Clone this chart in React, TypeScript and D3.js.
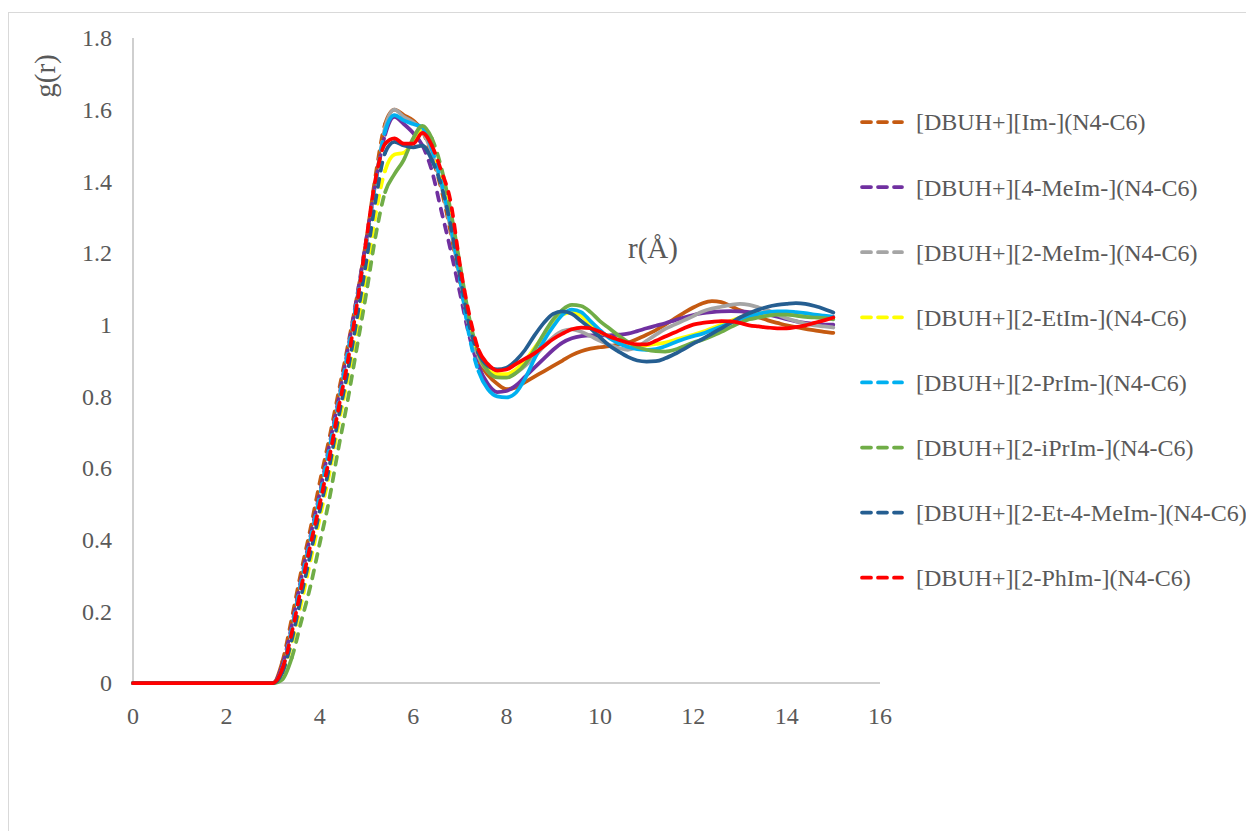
import React from "react";
import * as d3 from "d3";

// r grid (Å)
const R = [
  0, 0.2, 0.4, 0.6, 0.8, 1.0, 1.2, 1.4, 1.6, 1.8, 2.0, 2.2, 2.4, 2.6, 2.8, 3.0,
  3.2, 3.4, 3.6, 3.8, 4.0, 4.2, 4.4, 4.6, 4.8, 5.0,
  5.2, 5.4, 5.6, 5.8, 6.0, 6.2, 6.4, 6.6, 6.8, 7.0,
  7.2, 7.4, 7.6, 7.8, 8.0, 8.2, 8.4, 8.6, 8.8, 9.0,
  9.2, 9.4, 9.6, 9.8, 10.0, 10.2, 10.4, 10.6, 10.8, 11.0,
  11.2, 11.4, 11.6, 11.8, 12.0, 12.2, 12.4, 12.6, 12.8, 13.0,
  13.2, 13.4, 13.6, 13.8, 14.0, 14.2, 14.4, 14.6, 14.8, 15.0,
];

const Im = [
  0, 0, 0, 0, 0, 0, 0, 0, 0, 0, 0, 0, 0, 0, 0, 0,
  0.06, 0.18, 0.31, 0.43, 0.56, 0.68, 0.81, 0.94, 1.08, 1.24,
  1.42, 1.56, 1.6, 1.585, 1.57, 1.54, 1.47, 1.38, 1.26, 1.12,
  0.98, 0.9, 0.86, 0.835, 0.82, 0.825, 0.84, 0.855, 0.87, 0.885,
  0.9, 0.915, 0.926, 0.933, 0.937, 0.94, 0.945, 0.95, 0.96, 0.972,
  0.985, 1.0, 1.017, 1.033, 1.048, 1.06, 1.066, 1.063, 1.052, 1.04,
  1.03, 1.021, 1.012, 1.005, 0.998, 0.993, 0.988, 0.984, 0.98, 0.977,
];
const MeIm4 = [
  0, 0, 0, 0, 0, 0, 0, 0, 0, 0, 0, 0, 0, 0, 0, 0,
  0.05, 0.16, 0.29, 0.41, 0.53, 0.66, 0.79, 0.93, 1.08, 1.24,
  1.4, 1.53, 1.58, 1.56, 1.535, 1.5, 1.43, 1.32, 1.21, 1.09,
  0.97, 0.885, 0.835, 0.812, 0.815, 0.83, 0.855, 0.88, 0.905, 0.93,
  0.95, 0.962, 0.968, 0.97, 0.97, 0.97, 0.972, 0.975, 0.982, 0.99,
  0.997, 1.004, 1.012, 1.02, 1.027, 1.032, 1.035, 1.037, 1.038, 1.037,
  1.035, 1.032, 1.028, 1.022, 1.015, 1.009, 1.005, 1.002, 1.0, 1.0,
];
const MeIm2 = [
  0, 0, 0, 0, 0, 0, 0, 0, 0, 0, 0, 0, 0, 0, 0, 0,
  0.04, 0.15, 0.28, 0.4, 0.52, 0.65, 0.78, 0.92, 1.07, 1.23,
  1.4, 1.55, 1.6, 1.58, 1.565, 1.54, 1.48, 1.39, 1.27, 1.13,
  0.99, 0.91, 0.87, 0.855, 0.855, 0.865, 0.885, 0.91, 0.94, 0.965,
  0.982, 0.987, 0.98, 0.968, 0.955, 0.944, 0.935, 0.93, 0.938, 0.955,
  0.972, 0.988, 1.0, 1.012, 1.024, 1.037, 1.045, 1.05, 1.055, 1.058,
  1.055, 1.048, 1.04, 1.028, 1.018, 1.01, 1.003, 0.998, 0.995, 0.992,
];
const EtIm2 = [
  0, 0, 0, 0, 0, 0, 0, 0, 0, 0, 0, 0, 0, 0, 0, 0,
  0.03, 0.11, 0.22, 0.34, 0.46, 0.58, 0.72, 0.85, 0.99, 1.14,
  1.31, 1.43, 1.475, 1.48, 1.51, 1.55, 1.5, 1.41, 1.3, 1.16,
  1.01, 0.92, 0.875, 0.862, 0.862, 0.875, 0.9, 0.935, 0.97, 1.005,
  1.028, 1.034, 1.025, 1.0, 0.98, 0.967, 0.955, 0.945, 0.94, 0.942,
  0.946, 0.95, 0.957, 0.965, 0.972, 0.98, 0.99, 1.0, 1.01, 1.02,
  1.026, 1.03, 1.033, 1.034, 1.034, 1.032, 1.03, 1.027, 1.024, 1.02,
];
const PrIm2 = [
  0, 0, 0, 0, 0, 0, 0, 0, 0, 0, 0, 0, 0, 0, 0, 0,
  0.04, 0.15, 0.28, 0.4, 0.52, 0.65, 0.78, 0.92, 1.07, 1.23,
  1.4, 1.54, 1.585, 1.57, 1.56, 1.55, 1.49, 1.4, 1.28, 1.13,
  0.97, 0.87, 0.82, 0.8, 0.797, 0.81, 0.85, 0.905, 0.955, 0.995,
  1.028, 1.042, 1.035, 1.01, 0.985, 0.963, 0.948, 0.938, 0.932, 0.93,
  0.932, 0.94, 0.95, 0.96, 0.968, 0.975, 0.985, 0.995, 1.005, 1.015,
  1.023, 1.03, 1.035, 1.037, 1.037, 1.035, 1.032, 1.028, 1.025, 1.022,
];
const iPrIm2 = [
  0, 0, 0, 0, 0, 0, 0, 0, 0, 0, 0, 0, 0, 0, 0, 0,
  0.01, 0.07, 0.17, 0.27, 0.39, 0.51, 0.655, 0.79, 0.94, 1.09,
  1.25, 1.37, 1.42, 1.46, 1.52, 1.555, 1.52, 1.44, 1.32, 1.17,
  1.02, 0.92, 0.87, 0.853, 0.852, 0.865, 0.89, 0.93, 0.975, 1.015,
  1.042, 1.055, 1.052, 1.035, 1.01, 0.99, 0.97, 0.952, 0.938, 0.93,
  0.926, 0.925, 0.93, 0.94, 0.95, 0.958, 0.968, 0.98, 0.993, 1.005,
  1.015, 1.02, 1.025, 1.028, 1.028, 1.025, 1.022, 1.02, 1.018, 1.015,
];
const Et4MeIm2 = [
  0, 0, 0, 0, 0, 0, 0, 0, 0, 0, 0, 0, 0, 0, 0, 0,
  0.03, 0.12, 0.24, 0.36, 0.48, 0.6, 0.74, 0.87, 1.02, 1.18,
  1.35, 1.48, 1.51, 1.5, 1.495, 1.5, 1.46, 1.39, 1.28, 1.14,
  1.0, 0.92, 0.885, 0.875, 0.88, 0.9, 0.93, 0.97, 1.005, 1.03,
  1.037, 1.03, 1.01, 0.99, 0.965, 0.942, 0.925, 0.91, 0.9, 0.897,
  0.898, 0.906, 0.918, 0.932, 0.947, 0.96, 0.975, 0.99, 1.005, 1.02,
  1.032, 1.042, 1.05, 1.055, 1.058, 1.06, 1.058, 1.052, 1.044, 1.034,
];
const PhIm2 = [
  0, 0, 0, 0, 0, 0, 0, 0, 0, 0, 0, 0, 0, 0, 0, 0,
  0.04, 0.14, 0.265, 0.385, 0.5, 0.625, 0.765, 0.897, 1.06, 1.24,
  1.41, 1.505, 1.52, 1.505, 1.505, 1.535, 1.5, 1.43, 1.345, 1.17,
  1.03, 0.93, 0.89, 0.872, 0.875, 0.89, 0.905, 0.92, 0.94, 0.96,
  0.975, 0.987, 0.992, 0.99, 0.98, 0.967, 0.958, 0.95, 0.945, 0.945,
  0.955, 0.967, 0.978, 0.99, 1.0, 1.005, 1.008, 1.01, 1.009, 1.005,
  0.998, 0.995, 0.992, 0.99, 0.99, 0.993, 0.998, 1.005, 1.012, 1.02,
];

const SERIES_NAMES = [
  "[DBUH+][Im-](N4-C6)",
  "[DBUH+][4-MeIm-](N4-C6)",
  "[DBUH+][2-MeIm-](N4-C6)",
  "[DBUH+][2-EtIm-](N4-C6)",
  "[DBUH+][2-PrIm-](N4-C6)",
  "[DBUH+][2-iPrIm-](N4-C6)",
  "[DBUH+][2-Et-4-MeIm-](N4-C6)",
  "[DBUH+][2-PhIm-](N4-C6)",
];
const SERIES_VALUES = [Im, MeIm4, MeIm2, EtIm2, PrIm2, iPrIm2, Et4MeIm2, PhIm2];
const COLORS = ["#C55A11", "#7030A0", "#A5A5A5", "#FFFF00", "#00B0F0", "#70AD47", "#255E91", "#FF0000"];

const X_TICKS = [0, 2, 4, 6, 8, 10, 12, 14, 16];
const Y_TICKS = [0, 0.2, 0.4, 0.6, 0.8, 1, 1.2, 1.4, 1.6, 1.8];

const FONT = "'Times New Roman', 'Liberation Serif', serif";
const TEXT = "#595959";

const x = d3.scaleLinear().domain([0, 16]).range([133, 880]);
const y = d3.scaleLinear().domain([0, 1.8]).range([683, 38]);

// monotone cubic (same tangents as d3.curveMonotoneX), split into steep (dashed) and flat (solid) runs
function runs(vals: number[]) {
  const pts = R.map((r, i) => [x(r), y(vals[i])]);
  const n = pts.length;
  const sec: number[] = [];
  for (let i = 0; i < n - 1; i++) sec.push((pts[i + 1][1] - pts[i][1]) / (pts[i + 1][0] - pts[i][0]));
  const tan: number[] = pts.map((_, i) => {
    if (i === 0) return sec[0];
    if (i === n - 1) return sec[n - 2];
    const s0 = sec[i - 1];
    const s1 = sec[i];
    const h0 = pts[i][0] - pts[i - 1][0];
    const h1 = pts[i + 1][0] - pts[i][0];
    const p = (s0 * h1 + s1 * h0) / (h0 + h1);
    return (Math.sign(s0) + Math.sign(s1)) * Math.min(Math.abs(s0), Math.abs(s1), 0.5 * Math.abs(p)) || 0;
  });
  const out: { d: string; dashed: boolean }[] = [];
  let cur: { d: string; dashed: boolean } | null = null;
  for (let i = 0; i < n - 1; i++) {
    const p1 = pts[i];
    const p2 = pts[i + 1];
    const dx = (p2[0] - p1[0]) / 3;
    const c1 = [p1[0] + dx, p1[1] + dx * tan[i]];
    const c2 = [p2[0] - dx, p2[1] - dx * tan[i + 1]];
    const steep = Math.abs(sec[i]) > 2.5;
    const seg = `C${c1[0]},${c1[1]} ${c2[0]},${c2[1]} ${p2[0]},${p2[1]}`;
    if (!cur || cur.dashed !== steep) {
      cur = { d: `M${p1[0]},${p1[1]}${seg}`, dashed: steep };
      out.push(cur);
    } else {
      cur.d += seg;
    }
  }
  return out;
}

export default function App() {
  const legendY = (i: number) => 122 + i * 65.1;
  return (
    <svg
      width={1246}
      height={831}
      style={{ position: "absolute", left: 0, top: 0, display: "block", background: "#fff" }}
    >
      <rect x={8.5} y={12.5} width={1300} height={900} fill="#fff" stroke="#d9d9d9" strokeWidth={1} />
      {/* axes */}
      <line x1={x(0)} x2={x(0)} y1={y(1.8)} y2={y(0)} stroke="#bfbfbf" strokeWidth={1.5} />
      <line x1={x(0)} x2={x(16)} y1={y(0)} y2={y(0)} stroke="#bfbfbf" strokeWidth={1.5} />
      {Y_TICKS.map((t) => (
        <text key={t} x={112} y={y(t)} dy="0.35em" textAnchor="end" fontFamily={FONT} fontSize={24} fill={TEXT}>
          {t}
        </text>
      ))}
      {X_TICKS.map((t) => (
        <text key={t} x={x(t)} y={716} dy="0.35em" textAnchor="middle" fontFamily={FONT} fontSize={24} fill={TEXT}>
          {t}
        </text>
      ))}
      <text
        transform="translate(45,76) rotate(-90)"
        textAnchor="middle"
        dy="0.35em"
        fontFamily={FONT}
        fontSize={29}
        fill={TEXT}
      >
        g(r)
      </text>
      <text x={653} y={248} textAnchor="middle" dy="0.35em" fontFamily={FONT} fontSize={29} fill={TEXT}>
        r(Å)
      </text>
      {/* series */}
      {SERIES_VALUES.map((vals, si) => (
        <g key={si}>
          {runs(vals).map((rn, k) => (
            <path
              key={k}
              d={rn.d}
              fill="none"
              stroke={COLORS[si]}
              strokeWidth={3.75}
              strokeLinecap="round"
              strokeLinejoin="round"
              strokeDasharray={rn.dashed ? "8 8.5" : undefined}
            />
          ))}
        </g>
      ))}
      {/* legend */}
      {SERIES_NAMES.map((name, i) => (
        <g key={name}>
          <line
            x1={862}
            x2={902}
            y1={legendY(i)}
            y2={legendY(i)}
            stroke={COLORS[i]}
            strokeWidth={3.75}
            strokeLinecap="round"
            strokeDasharray="9 7"
          />
          <text x={916} y={legendY(i)} dy="0.35em" fontFamily={FONT} fontSize={24} fill={TEXT}>
            {name}
          </text>
        </g>
      ))}
    </svg>
  );
}
